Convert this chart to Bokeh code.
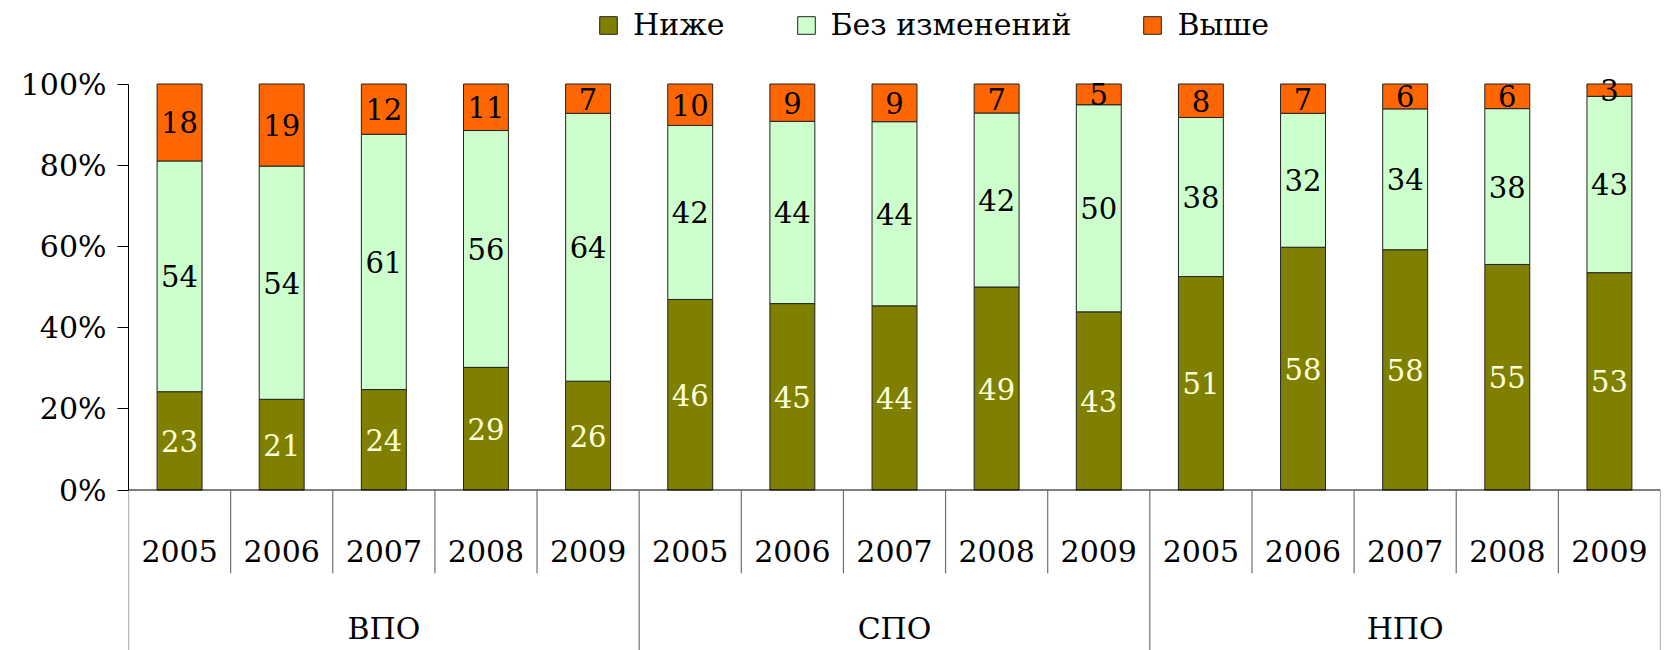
from bokeh.plotting import figure
from bokeh.models import ColumnDataSource, Legend, LegendItem, FixedTicker, Range1d
from bokeh.core.properties import value
from bokeh.embed import file_html
from bokeh.resources import INLINE

# ---- data ----
groups = ["ВПО", "СПО", "НПО"]
years = ["2005", "2006", "2007", "2008", "2009"]
series = ["Ниже", "Без изменений", "Выше"]
lower = [23, 21, 24, 29, 26, 46, 45, 44, 49, 43, 51, 58, 58, 55, 53]
same = [54, 54, 61, 56, 64, 42, 44, 44, 42, 50, 38, 32, 34, 38, 43]
higher = [18, 19, 12, 11, 7, 10, 9, 9, 7, 5, 8, 7, 6, 6, 3]
colors = ["#808000", "#CCFFCC", "#FF6600"]
y_ticks = [0, 0.2, 0.4, 0.6, 0.8, 1.0]
y_tick_labels = ["0%", "20%", "40%", "60%", "80%", "100%"]

FONT = "DejaVu Serif"
n_per = len(years)
n = len(groups) * n_per

# ---- derived (normalised 100% stacking) ----
xs = [i + 0.5 for i in range(n)]
tot = [a + b + c for a, b, c in zip(lower, same, higher)]
f_low = [a / t for a, t in zip(lower, tot)]
f_same = [b / t for b, t in zip(same, tot)]
f_high = [c / t for c, t in zip(higher, tot)]

src = ColumnDataSource(dict(x=xs, low=f_low, same=f_same, high=f_high))

# ---- layout constants ----
Y_TOP = 1.2057
Y_BOT = -0.3953
Y_SHORT = -0.205
Y_YEAR = -0.149
Y_GROUP = -0.342

p = figure(width=1675, height=650, x_range=Range1d(0, n), y_range=Range1d(Y_BOT, Y_TOP),
           x_axis_location=None, output_backend="svg", toolbar_location=None,
           min_border_left=128, min_border_right=15, min_border_top=0, min_border_bottom=0)
p.outline_line_color = None
p.grid.visible = False
p.background_fill_color = "white"

rs = p.vbar_stack(["low", "same", "high"], x="x", width=0.44, source=src,
                  fill_color=colors, line_color="#222222", line_width=1)

# y axis
ya = p.yaxis[0]
ya.ticker = FixedTicker(ticks=y_ticks)
ya.major_label_overrides = {t: l for t, l in zip(y_ticks, y_tick_labels)}
ya.bounds = (0, 1)
ya.minor_tick_line_color = None
ya.major_tick_in = 0
ya.major_tick_out = 11
ya.major_label_standoff = 11
ya.axis_line_color = "#000000"
ya.major_tick_line_color = "#000000"
ya.major_label_text_font = FONT
ya.major_label_text_font_size = "30px"
ya.major_label_text_color = "#000000"

# baseline
p.segment(x0=[0], y0=[0], x1=[n], y1=[0], line_color="#000000", line_width=1.2)

# category separators
sx = list(range(n + 1))
sy1 = [Y_BOT if i % n_per == 0 else Y_SHORT for i in sx]
p.segment(x0=sx, y0=[0] * len(sx), x1=sx, y1=sy1, line_color="#707070", line_width=1.2)

# year labels
p.text(x=xs, y=[Y_YEAR] * n, text=years * len(groups), text_align="center",
       text_baseline="middle", text_font=value(FONT), text_font_size=value("30px"),
       text_color="#000000")
# group labels
gx = [g * n_per + n_per / 2 for g in range(len(groups))]
p.text(x=gx, y=[Y_GROUP] * len(groups), text=groups, text_align="center",
       text_baseline="middle", text_font=value(FONT), text_font_size=value("30px"),
       text_color="#000000")

# data labels
ly_low = [a / 2 for a in f_low]
ly_same = [a + b / 2 for a, b in zip(f_low, f_same)]
ly_high = [a + b + c / 2 for a, b, c in zip(f_low, f_same, f_high)]
for ys, vals, col in [(ly_low, lower, "#FFFFDD"), (ly_same, same, "#000000"), (ly_high, higher, "#000000")]:
    p.text(x=xs, y=ys, text=[str(v) for v in vals], text_align="center", text_baseline="middle",
           text_font=value(FONT), text_font_size=value("29px"), text_color=col)

legend = Legend(items=[LegendItem(label=s, renderers=[r]) for s, r in zip(series, rs)],
                orientation="horizontal", location=(469, 608),
                glyph_width=22, glyph_height=22, label_standoff=14, spacing=70,
                padding=0, margin=0, border_line_color=None, background_fill_alpha=0,
                label_text_font=FONT, label_text_font_size="30px", label_text_color="#000000")
p.add_layout(legend)

open("out.html", "w").write(file_html(p, INLINE))
